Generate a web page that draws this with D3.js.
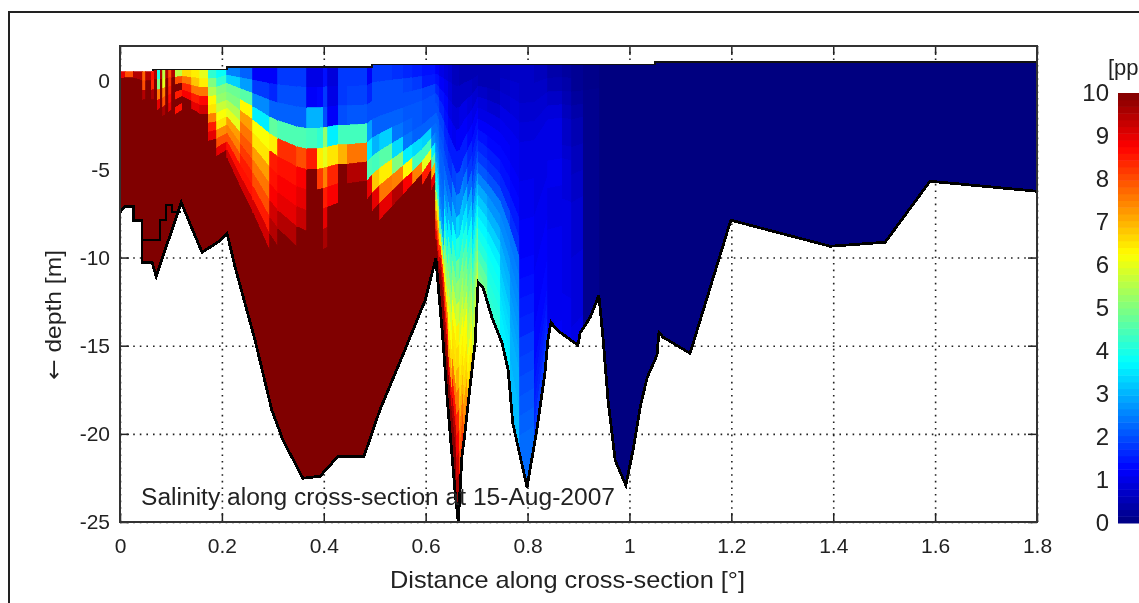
<!DOCTYPE html>
<html>
<head>
<meta charset="utf-8">
<script src="https://d3js.org/d3.v7.min.js"></script>
<style>
  html, body { margin: 0; padding: 0; background: #fff; overflow: hidden; }
  svg { filter: blur(0.45px); }
  text { font-family: "Liberation Sans", Arial, sans-serif; fill: #222; }
  .axis path { display: none; }
  .axis line { stroke: #222; }
  .grid line { stroke: #222; stroke-width: 1.6; stroke-dasharray: 1.6 5; }
  .axis text { font-size: 21px; }
</style>
</head>
<body>
<div id="container"></div>
<script>
/* degrees along the section, metres of depth, ppt */
const xTicks = [0, 0.2, 0.4, 0.6, 0.8, 1, 1.2, 1.4, 1.6, 1.8];
const yTicks = [-25, -20, -15, -10, -5, 0];
const barTicks = [0, 1, 2, 3, 4, 5, 6, 7, 8, 9, 10];

// water surface, a stair
const surfaceX = [0, 0.065, 0.21, 0.495, 1.05, 1.8];
const surfaceZ = [0.57, 0.66, 0.82, 0.96, 1.08, 1.08];

// bed outline
const bedX = [0, .010, .026, .027, .043, .0432, .063, .071, .088, .102, .120, .137, .161, .192, .210, .226, .265, .298, .320, .359, .393, .428, .479, .510, .559, .599, .620, .634, .642, .652, .658, .664, .671, .677, .687, .697, .703, .713, .730, .750, .762, .771, .799, .819, .834, .840, .846, .858, .899, .903, .923, .940, .948, .958, .972, .993, 1.007, 1.021, 1.035, 1.054, 1.058, 1.066, 1.119, 1.199, 1.394, 1.502, 1.590, 1.800];
const bedZ = [-7.43, -7.09, -7.09, -7.88, -7.88, -10.27, -10.27, -11.06, -9.59, -8.45, -6.86, -8.05, -9.70, -9.13, -8.62, -10.55, -14.69, -18.66, -20.36, -22.52, -22.40, -21.27, -21.27, -18.66, -15.26, -12.42, -10.04, -14.69, -17.92, -21.33, -23.37, -25, -21.33, -19.97, -17.36, -14.86, -11.40, -11.74, -13.39, -14.86, -16.39, -19.40, -23.03, -19.63, -16.56, -14.69, -13.67, -14.12, -14.97, -14.29, -13.39, -12.14, -14.52, -18.09, -21.50, -22.92, -20.93, -18.49, -16.79, -15.54, -14.24, -14.52, -15.43, -7.88, -9.36, -9.13, -5.67, -6.24];

// the second black stair inside the shallow part on the left
const stairX = [.043, .043, .079, .079, .090, .090, .102, .102, .120];
const stairZ = [-7.88, -9.0, -9.0, -7.88, -7.88, -7.03, -7.03, -7.43, -7.43];

// model columns
const columnEdges = [0, .010, .026, .045, .051, .061, .067, .073, .079, .084, .090, .096, .102, .108, .122, .141, .157, .173, .190, .210, .236, .261, .294, .310, .347, .367, .387, .399, .408, .428, .446, .485, .495, .510, .534, .556, .575, .593, .612, .620, .628, .636, .644, .652, .660, .667, .675, .683, .691, .703, .722, .746, .766, .785, .813, .840, .868, .887, .909, .942, 1.8];

// salinity per column, 20 sigma layers from the surface down
const salinity = [
  [9,10,10,10,10,10,10,10,10,10,10,10,10,10,10,10,10,10,10,10],
  [8,10,10,10,10,10,10,10,10,10,10,10,10,10,10,10,10,10,10,10],
  [9.5,10,10,10,10,10,10,10,10,10,10,10,10,10,10,10,10,10,10,10],
  [7.8,8,9.5,10,10,10,10,10,10,10,10,10,10,10,10,10,10,10,10,10],
  [9.5,10,10,10,10,10,10,10,10,10,10,10,10,10,10,10,10,10,10,10],
  [8.6,8.4,9.6,10,10,10,10,10,10,10,10,10,10,10,10,10,10,10,10,10],
  [9.5,10,10,10,10,10,10,10,10,10,10,10,10,10,10,10,10,10,10,10],
  [4,5,7.6,9,10,10,10,10,10,10,10,10,10,10,10,10,10,10,10,10],
  [9.5,10,10,10,10,10,10,10,10,10,10,10,10,10,10,10,10,10,10,10],
  [5.6,6,7.5,8,9.6,10,10,10,10,10,10,10,10,10,10,10,10,10,10,10],
  [9.5,10,10,10,10,10,10,10,10,10,10,10,10,10,10,10,10,10,10,10],
  [8,8.3,8.5,8.7,9,10,10,10,10,10,10,10,10,10,10,10,10,10,10,10],
  [9.5,10,10,10,10,10,10,10,10,10,10,10,10,10,10,10,10,10,10,10],
  [5.6,8,10,8.5,10,8.6,10,10,10,10,10,10,10,10,10,10,10,10,10,10],
  [6.6,7.6,8.4,8.8,10,10,10,10,10,10,10,10,10,10,10,10,10,10,10,10],
  [6.4,6.8,7.6,8.5,9,10,10,10,10,10,10,10,10,10,10,10,10,10,10,10],
  [6,6.4,7.6,8.7,9.2,10,10,10,10,10,10,10,10,10,10,10,10,10,10,10],
  [4.2,5,5.5,6.3,6.5,7.5,8.5,9,10,10,10,10,10,10,10,10,10,10,10,10],
  [3.8,4.2,5,5.2,5.7,6.2,6.5,7.4,8,9,10,10,10,10,10,10,10,10,10,10],
  [2.5,3.3,4.8,5,5.5,6,7.2,7.5,8,8.6,9.2,10,10,10,10,10,10,10,10,10],
  [2.2,2.8,4.6,6.3,7.2,7.6,7.9,8.2,8.5,8.6,9.2,10,10,10,10,10,10,10,10,10],
  [1.2,1.8,2.6,3.6,6.2,6.5,7.2,7.6,8,8.5,9.2,10,10,10,10,10,10,10,10,10],
  [1.2,1.6,2.2,4.7,6.4,8.5,8.6,8.8,9.2,9.5,10,10,10,10,10,10,10,10,10,10],
  [1.8,2,2.2,4.5,8.3,8.6,8.8,9,9.5,10,10,10,10,10,10,10,10,10,10,10],
  [1.8,2,2.2,4.5,8,8.8,9,9.3,10,10,10,10,10,10,10,10,10,10,10,10],
  [1,1.2,3,4.4,8.5,10,10,10,10,10,10,10,10,10,10,10,10,10,10,10],
  [1,1.3,3,4.2,6.4,8.2,10,10,10,10,10,10,10,10,10,10,10,10,10,10],
  [1.4,1.8,2,5.2,6,7.5,8.5,9,9.6,10,10,10,10,10,10,10,10,10,10,10],
  [.9,1,1.2,3.6,6.5,8.4,8.8,10,10,10,10,10,10,10,10,10,10,10,10,10],
  [1.8,1.8,2,4.4,7,10,10,10,10,10,10,10,10,10,10,10,10,10,10,10],
  [1.8,1.9,2.1,4.4,7.6,9.5,10,10,10,10,10,10,10,10,10,10,10,10,10,10],
  [1.2,1.6,2,2.8,3.6,4.5,9,10,10,10,10,10,10,10,10,10,10,10,10,10],
  [1.8,2,2,2.2,3,4.4,6.8,9,10,10,10,10,10,10,10,10,10,10,10,10],
  [1.8,2,2,2.2,3.3,4.6,6.4,7.6,9,10,10,10,10,10,10,10,10,10,10,10],
  [1.7,2,2,2.2,2.4,3.4,5,7.5,9.5,10,10,10,10,10,10,10,10,10,10,10],
  [1.6,1.9,2,2.1,2.2,2.4,3.6,6.3,8.8,10,10,10,10,10,10,10,10,10,10,10],
  [1.5,1.8,2,2.1,2.1,2.2,3.4,4.4,7.5,10,10,10,10,10,10,10,10,10,10,10],
  [1.4,1.5,1.9,2,2,2.2,3.3,4.4,6,8.5,10,10,10,10,10,10,10,10,10,10],
  [1.4,1.5,1.9,2,2,2.2,2.3,2.6,3.6,4.6,7,9,10,10,10,10,10,10,10,10],
  [1.2,1.4,1.6,1.9,2,2.2,2.3,2.4,2.6,2.8,3.2,3.6,4.2,5.5,6.5,7.4,8.2,9,10,10],
  [1,1.2,1.4,1.6,1.9,2,2.1,2.2,2.2,2.3,2.4,2.6,3,4.5,6.5,8.5,9.5,10,10,10],
  [.9,1.1,1.3,1.4,1.6,1.8,2,2.3,2.6,3,3.6,4.2,5,5.4,6.4,7.6,8.6,9.6,10,10],
  [.8,.9,1,1.2,1.5,1.7,2,2.4,3,3.6,4.4,4.8,5.3,5.8,6.2,6.6,7.2,9,10,10],
  [.6,.7,.9,1.1,1.5,1.9,2.5,3,3.8,4.4,5,5.6,6.2,6.5,6.6,7.6,8.6,9.5,10,10],
  [.6,.7,.9,1.2,1.5,2,2.6,3.4,4.1,4.8,5.2,5.8,6.4,6.6,7,7.6,8.4,8.8,9.2,9.6],
  [.5,.7,1,1.2,1.5,2,2.6,3.2,3.9,4.4,5,5.4,5.8,6.2,6.4,6.6,7,7.6,8,8.6],
  [.5,.7,1,1.2,1.5,1.9,2.4,3,3.5,4,4.5,4.9,5.2,5.7,6.2,6.3,6.5,6.7,7.2,7.5],
  [.5,.7,.9,1.1,1.3,1.6,1.8,2.3,2.9,3.3,3.8,4.2,4.6,4.9,5.2,5.5,5.8,6.2,6.4,6.8],
  [.5,.6,.8,1,1.2,1.4,1.6,1.8,2.1,2.4,2.9,3.2,3.6,4,4.4,4.8,5,5.3,5.6,5.8],
  [.5,.5,.7,.9,1,1.2,1.4,1.6,1.8,2.1,2.5,2.9,3.2,3.5,3.7,3.9,4.1,4.4,4.7,4.9],
  [.5,.5,.6,.8,1,1.2,1.3,1.5,1.7,2,2.5,2.7,3,3.3,3.6,3.8,3.9,4,4.1,4.2],
  [.6,.7,.8,1,1.1,1.2,1.3,1.4,1.6,2,2.5,2.6,2.8,3,3.1,3.3,3.4,3.5,3.6,3.6],
  [.7,.8,.9,1,1.1,1.1,1.2,1.3,1.5,1.7,2.4,2.5,2.6,2.7,2.8,2.9,3,3,3.1,3.1],
  [.7,.7,.8,.9,1,1,1.1,1.1,1.2,1.2,1.3,1.4,1.5,1.6,1.8,1.9,2,2.1,2.2,2.3],
  [.6,.7,.8,.9,1,1,1,1,1.1,1.1,1.1,1.2,1.2,1.2,1.3,1.3,1.4,1.5,1.6,1.8],
  [.4,.5,.7,.9,1,1,1,1.1,1.1,1,1,1,1.1,1.1,1.1,1.1,1.1,1.1,1.1,1.2],
  [.3,.4,.5,.6,.7,.7,.8,.9,.9,.9,1,1,1,1,1,1,1,1.1,1.1,1.1],
  [.2,.2,.3,.4,.5,.5,.6,.6,.7,.7,.8,.8,.8,.8,.9,.9,.9,.9,.9,1],
  [.1,.1,.15,.15,.15,.15,.15,.15,.15,.15,.15,.15,.15,.15,.15,.15,.15,.15,.15,.15],
  [0,0,0,0,0,0,0,0,0,0,0,0,0,0,0,0,0,0,0,0]
];

const width = 1139, height = 603;
const margin = { top: 46, bottom: 81, left: 120, right: 102 };

const xScale = d3.scaleLinear().domain([0, 1.8]).range([margin.left, width - margin.right]);
const yScale = d3.scaleLinear().domain([-25, 2]).range([height - margin.bottom, margin.top]);
const barScale = d3.scaleLinear().domain([0, 10]).range([523, 93]);

// jet
const jet = d3.scaleLinear()
  .domain([0, 1.25, 3.75, 6.25, 8.75, 10])
  .range(["#000080", "#0000ff", "#00ffff", "#ffff00", "#ff0000", "#800000"])
  .clamp(true);

const bedAt = d3.scaleLinear().domain(bedX).range(bedZ);
const surfaceAt = d3.scaleThreshold().domain(surfaceX.slice(1)).range(surfaceZ);

const svg = d3.select("#container").append("svg")
  .attr("width", width)
  .attr("height", height);

// outer figure frame, runs off the window
svg.append("path")
  .attr("d", `M9,${height}V12H${width}`)
  .attr("fill", "none")
  .attr("stroke", "#222")
  .attr("stroke-width", 2);

const innerW = width - margin.left - margin.right;
const innerH = height - margin.top - margin.bottom;
const bottomY = height - margin.bottom;

// grid sits under the water patch
svg.append("g").attr("class", "grid")
  .attr("transform", `translate(0,${bottomY})`)
  .call(d3.axisBottom(xScale).tickValues(xTicks).tickSize(-innerH).tickFormat(""));
svg.append("g").attr("class", "grid")
  .attr("transform", `translate(${margin.left},0)`)
  .call(d3.axisLeft(yScale).tickValues(yTicks).tickSize(-innerW).tickFormat(""));

// ticks
svg.append("g").attr("class", "axis")
  .attr("transform", `translate(0,${bottomY})`)
  .call(d3.axisBottom(xScale).tickValues(xTicks).tickSize(-9).tickPadding(16).tickFormat(d => d));
svg.append("g").attr("class", "axis")
  .attr("transform", `translate(0,${margin.top})`)
  .call(d3.axisTop(xScale).tickValues(xTicks).tickSize(-9).tickFormat(""));
svg.append("g").attr("class", "axis")
  .attr("transform", `translate(${margin.left},0)`)
  .call(d3.axisLeft(yScale).tickValues(yTicks).tickSize(-9).tickPadding(10).tickFormat(d => d));
svg.append("g").attr("class", "axis")
  .attr("transform", `translate(${width - margin.right},0)`)
  .call(d3.axisRight(yScale).tickValues(yTicks).tickSize(-9).tickFormat(""));

svg.selectAll(".axis .tick line").attr("stroke-width", 1.5);

// water shape used as a clip
const outline = d3.line().x(d => xScale(d[0])).y(d => yScale(d[1]));
const surfacePts = [];
surfaceX.forEach((x, i) => {
  if (i > 0) surfacePts.push([x, surfaceZ[i - 1]]);
  surfacePts.push([x, surfaceZ[i]]);
});
const bedPts = d3.zip(bedX, bedZ);
svg.append("clipPath").attr("id", "water")
  .append("path")
  .attr("d", outline(surfacePts.concat(bedPts.slice().reverse())) + "Z");

// sigma grid, top and bottom nodes pushed past the clip so no gaps show
const layers = salinity[0].length;
function nodeZ(x, k) {
  if (k === 0) return 2;
  if (k === layers) return -30;
  const eta = surfaceAt(x), bed = bedAt(x);
  return eta + (bed - eta) * k / layers;
}

const cells = [];
salinity.forEach((col, i) => {
  col.forEach((v, k) => cells.push({ i, k, v }));
});

const quad = d3.line();
svg.append("g")
  .attr("clip-path", "url(#water)")
  .selectAll("path.cell")
  .data(cells)
  .join("path")
  .attr("class", "cell")
  .attr("d", d => {
    const x0 = columnEdges[d.i], x1 = columnEdges[d.i + 1];
    return quad([
      [xScale(x0), yScale(nodeZ(x0, d.k))],
      [xScale(x1), yScale(nodeZ(x1, d.k))],
      [xScale(x1), yScale(nodeZ(x1, d.k + 1))],
      [xScale(x0), yScale(nodeZ(x0, d.k + 1))]
    ]) + "Z";
  })
  .attr("fill", d => jet(d.v))
  .attr("stroke", d => jet(d.v))
  .attr("stroke-width", 0.8)
  .attr("shape-rendering", "crispEdges");

// black outlines, aliased like the original
svg.append("path")
  .attr("d", outline(bedPts))
  .attr("fill", "none").attr("stroke", "#000").attr("stroke-width", 2.8).attr("shape-rendering", "crispEdges");
svg.append("path")
  .attr("d", outline(d3.zip(stairX, stairZ)))
  .attr("fill", "none").attr("stroke", "#000").attr("stroke-width", 2).attr("shape-rendering", "crispEdges");
svg.append("path")
  .attr("d", outline(surfacePts.filter(d => d[0] >= surfaceX[1])))
  .attr("fill", "none").attr("stroke", "#111").attr("stroke-width", 1.5).attr("shape-rendering", "crispEdges");

// axes box on top
svg.append("rect")
  .attr("x", margin.left).attr("y", margin.top)
  .attr("width", innerW).attr("height", innerH)
  .attr("fill", "none").attr("stroke", "#333").attr("stroke-width", 2);

// titles
svg.append("text").attr("x", 141).attr("y", 505).attr("font-size", 23)
  .attr("textLength", 474).attr("lengthAdjust", "spacingAndGlyphs")
  .text("Salinity along cross-section at 15-Aug-2007");
svg.append("text").attr("x", 390).attr("y", 588).attr("font-size", 24)
  .attr("textLength", 355).attr("lengthAdjust", "spacingAndGlyphs")
  .text("Distance along cross-section [°]");
const depthLabel = svg.append("text").attr("transform", "translate(61,380) rotate(-90)")
  .attr("font-size", 22)
  .attr("textLength", 130).attr("lengthAdjust", "spacingAndGlyphs");
depthLabel.append("tspan").style("font-family", "'DejaVu Sans'").text("←");
depthLabel.append("tspan").text(" depth [m]");

// colorbar, 64 colours and cut by the window
const barX = 1118, barW = 40, bands = 64;
svg.append("g").selectAll("rect")
  .data(d3.range(bands))
  .join("rect")
  .attr("x", barX)
  .attr("y", d => barScale((d + 1) * 10 / bands))
  .attr("width", barW)
  .attr("height", d => barScale(d * 10 / bands) - barScale((d + 1) * 10 / bands) + 0.5)
  .attr("fill", d => jet((d + 0.5) * 10 / bands));

const barAxis = svg.append("g").attr("class", "axis bar")
  .attr("transform", `translate(${barX},0)`)
  .call(d3.axisLeft(barScale).tickValues(barTicks).tickSize(0).tickPadding(9).tickFormat(d => d));
barAxis.selectAll("text").style("font-size", "24px");

svg.append("text").attr("x", 1108).attr("y", 75).attr("font-size", 22).text("[pp");
</script>
</body>
</html>
